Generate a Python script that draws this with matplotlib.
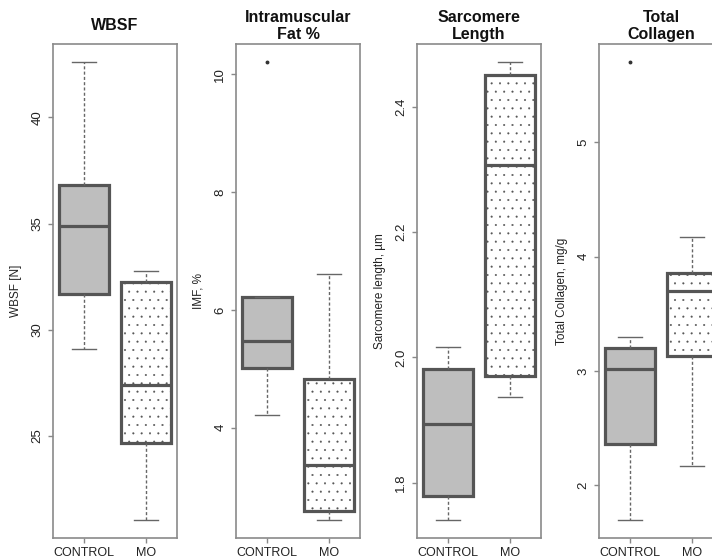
import matplotlib.pyplot as plt

plt.rcParams['font.family'] = ['Liberation Sans', 'DejaVu Sans']
plt.rcParams['hatch.linewidth'] = 0.25

groups = ["CONTROL", "MO"]
titles = ["WBSF", "Intramuscular\nFat %", "Sarcomere\nLength", "Total\nCollagen"]
ylabels = ["WBSF [N]", "IMF, %", "Sarcomere length, µm", "Total Collagen, mg/g"]
yticks = [[25, 30, 35, 40], [4, 6, 8, 10], [1.8, 2.0, 2.2, 2.4], [2, 3, 4, 5]]
ytick_fmt = ["{:.0f}", "{:.0f}", "{:.1f}", "{:.0f}"]

# per group: [lower whisker, Q1, median, Q3, upper whisker]
wbsf = [[29.1, 31.7, 34.9, 36.8, 42.6], [21.05, 24.65, 27.4, 32.25, 32.75]]
imf = [[4.22, 5.02, 5.47, 6.22, 6.22], [2.44, 2.58, 3.36, 4.82, 6.61]]
sarc = [[1.741, 1.779, 1.894, 1.982, 2.017], [1.937, 1.971, 2.307, 2.451, 2.471]]
coll = [[1.70, 2.36, 3.02, 3.20, 3.30], [2.17, 3.13, 3.70, 3.86, 4.17]]
outliers = [[[], []], [[10.2], []], [[], []], [[5.70], []]]

traits = [wbsf, imf, sarc, coll]

fig = plt.figure(figsize=(7.12, 5.58), dpi=100)
W, H = 712.0, 558.0
lefts = [53, 236, 417, 599]
top, bottom, width = 44, 538, 124

edge = '#555555'
for i, trait in enumerate(traits):
    ax = fig.add_axes([lefts[i] / W, 1 - bottom / H, width / W, (bottom - top) / H])
    stats = []
    for g, five in enumerate(trait):
        stats.append(dict(whislo=five[0], q1=five[1], med=five[2], q3=five[3],
                          whishi=five[4], fliers=outliers[i][g], label=groups[g]))
    bp = ax.bxp(stats, positions=[1, 2], widths=0.8, capwidths=0.4,
                patch_artist=True, showfliers=True,
                boxprops=dict(edgecolor=edge, linewidth=2.3),
                medianprops=dict(color=edge, linewidth=2.3, solid_capstyle='butt'),
                whiskerprops=dict(color='#666666', linewidth=1.0, linestyle=(0, (2.2, 1.6))),
                capprops=dict(color='#666666', linewidth=1.0),
                flierprops=dict(marker='o', markersize=1.8, markerfacecolor='#333333',
                                markeredgecolor='#333333', linestyle='none'))
    bp['boxes'][0].set_facecolor('#BEBEBE')
    bp['boxes'][1].set_facecolor('white')
    bp['boxes'][1].set_hatch('..')

    # R-style range: data extent padded by 4%
    lo = min(min(f[0] for f in trait), *[v for o in outliers[i] for v in o] or [1e9])
    hi = max(max(f[4] for f in trait), *[v for o in outliers[i] for v in o] or [-1e9])
    pad = 0.04 * (hi - lo)
    ax.set_ylim(lo - pad, hi + pad)
    ax.set_xlim(0.5, 2.5)

    ax.set_yticks(yticks[i])
    ax.set_yticklabels([ytick_fmt[i].format(v) for v in yticks[i]], rotation=90, va='center')
    ax.set_xticks([1, 2])
    ax.set_xticklabels(groups)
    ax.tick_params(axis='both', colors='#888888', labelcolor='#222222', length=3.5, width=1.0)
    ax.tick_params(axis='y', labelsize=9.5, pad=3.5)
    ax.tick_params(axis='x', labelsize=9, pad=3)
    for s in ax.spines.values():
        s.set_color('#8a8a8a')
        s.set_linewidth(1.2)

    ax.set_ylabel(ylabels[i], fontsize=8.5, color='#222222')
    ax.yaxis.set_label_coords(-31 / width, 0.5)

    fig.text((lefts[i] + width / 2) / W, 1 - 26 / H, titles[i], ha='center', va='center',
             fontsize=11.5, fontweight='bold', linespacing=1.1, color='#111111')

fig.savefig('out.png', dpi=100)
